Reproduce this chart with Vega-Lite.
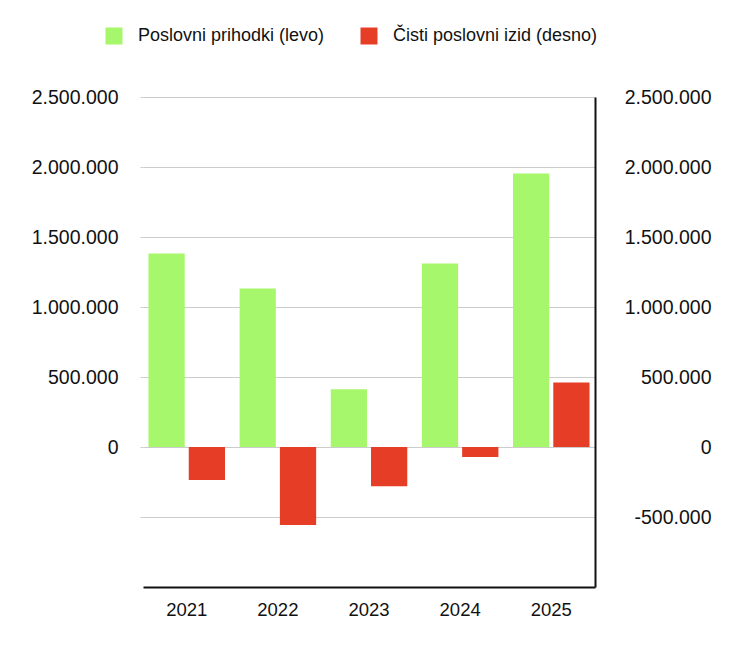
{
  "$schema": "https://vega.github.io/schema/vega-lite/v6.json",
  "width": 452,
  "height": 490,
  "autosize": {"type": "none"},
  "padding": {"left": 143, "top": 97, "right": 155, "bottom": 76},
  "background": "white",
  "config": {
    "font": "Liberation Sans",
    "view": {"stroke": null},
    "locale": {"number": {"decimal": ",", "thousands": ".", "grouping": [3], "currency": ["", " €"], "minus": "-"}}
  },
  "data": {
    "values": [
      {"year": "2021", "series": "Poslovni prihodki (levo)", "value": 1383000},
      {"year": "2021", "series": "Čisti poslovni izid (desno)", "value": -236000},
      {"year": "2022", "series": "Poslovni prihodki (levo)", "value": 1133000},
      {"year": "2022", "series": "Čisti poslovni izid (desno)", "value": -557000},
      {"year": "2023", "series": "Poslovni prihodki (levo)", "value": 412000},
      {"year": "2023", "series": "Čisti poslovni izid (desno)", "value": -280000},
      {"year": "2024", "series": "Poslovni prihodki (levo)", "value": 1311000},
      {"year": "2024", "series": "Čisti poslovni izid (desno)", "value": -71000},
      {"year": "2025", "series": "Poslovni prihodki (levo)", "value": 1954000},
      {"year": "2025", "series": "Čisti poslovni izid (desno)", "value": 460000}
    ]
  },
  "encoding": {
    "x": {
      "field": "year", "type": "nominal", "title": null,
      "scale": {"paddingInner": 0.16, "paddingOuter": 0.06},
      "axis": {"labelAngle": 0, "labelFontSize": 18.5, "labelColor": "#111", "labelPadding": 13, "ticks": false, "domainColor": "#111", "domainWidth": 2, "grid": false}
    },
    "xOffset": {
      "field": "series", "type": "nominal",
      "scale": {"domain": ["Poslovni prihodki (levo)", "Čisti poslovni izid (desno)"], "paddingInner": 0.1, "paddingOuter": 0}
    },
    "color": {
      "field": "series", "type": "nominal",
      "scale": {"domain": ["Poslovni prihodki (levo)", "Čisti poslovni izid (desno)"], "range": ["#a6f76b", "#e63e26"]},
      "legend": {
        "title": null, "orient": "none", "legendX": -38, "legendY": -70, "direction": "horizontal",
        "symbolType": "square", "symbolSize": 289, "symbolStrokeWidth": 0, "symbolOpacity": 1,
        "labelFontSize": 18, "labelColor": "#111", "labelOffset": 15, "columnPadding": 35, "labelLimit": 400
      }
    }
  },
  "layer": [
    {
      "transform": [{"filter": "datum.series === 'Poslovni prihodki (levo)'"}],
      "mark": {"type": "bar"},
      "encoding": {
        "y": {
          "field": "value", "type": "quantitative", "title": null,
          "scale": {"domain": [-1000000, 2500000], "nice": false, "zero": false},
          "axis": {
            "orient": "left", "values": [-500000, 0, 500000, 1000000, 1500000, 2000000, 2500000],
            "format": ",d", "labelExpr": "datum.value == -500000 ? '' : datum.label",
            "domain": false, "ticks": true, "tickSize": 3, "tickColor": "#cccccc",
            "grid": true, "gridColor": "#cccccc", "gridWidth": 1,
            "labelFontSize": 19.5, "labelColor": "#111", "labelPadding": 22
          }
        }
      }
    },
    {
      "transform": [{"filter": "datum.series === 'Čisti poslovni izid (desno)'"}],
      "mark": {"type": "bar"},
      "encoding": {
        "y": {
          "field": "value", "type": "quantitative", "title": null,
          "scale": {"domain": [-1000000, 2500000], "nice": false, "zero": false},
          "axis": {
            "orient": "right", "values": [-500000, 0, 500000, 1000000, 1500000, 2000000, 2500000],
            "format": ",d", "domain": true, "domainColor": "#111", "domainWidth": 2,
            "ticks": false, "grid": false,
            "labelFontSize": 19.5, "labelColor": "#111", "labelAlign": "right", "labelPadding": 116
          }
        }
      }
    }
  ],
  "resolve": {"scale": {"y": "independent"}}
}
